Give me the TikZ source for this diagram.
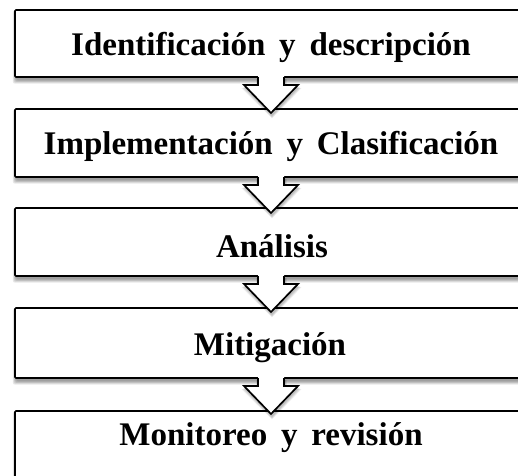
\documentclass[tikz,border=0pt]{standalone}
\usepackage{fontspec}
\setmainfont{Liberation Serif}
\usetikzlibrary{calc}
\begin{document}
\begin{tikzpicture}[x=1pt,y=-1pt,
  stagebox/.style={draw=black, line width=1.7pt, fill=white, rounded corners=1pt,
    anchor=north west, minimum width=520pt, inner sep=0pt, outer sep=0pt},
  stagelabel/.style={font=\bfseries\fontsize{33}{36}\selectfont, inner sep=0pt, anchor=base},
  arrowfill/.style={fill=white, draw=none},
  arrowline/.style={draw=black, line width=1.7pt, line join=miter}]
\useasboundingbox (0,0) rectangle (518,475);
\clip (0,0) rectangle (518,475);

% stage boxes
\coordinate (o1) at (15,10);
\coordinate (o2) at (15,109);
\coordinate (o3) at (15,208);
\coordinate (o4) at (15,308);
\coordinate (o5) at (15,411);

% soft shadows under the boxes
\foreach \top/\h in {10/67,109/68,208/68,308/70,411/90}{
  \foreach \k in {0,...,4}{
    \fill[black,opacity=0.09,rounded corners=2pt]
      (15+1-\k*0.8, \top+3-\k*0.6) rectangle (535+\k*0.8, \top+\h+3+\k*0.9);
  }
}

\node[stagebox, minimum height=67pt] (s1) at (o1) {};
\node[stagebox, minimum height=68pt] (s2) at (o2) {};
\node[stagebox, minimum height=68pt] (s3) at (o3) {};
\node[stagebox, minimum height=70pt] (s4) at (o4) {};
\node[stagebox, minimum height=90pt] (s5) at (o5) {};

% labels, placed on their baselines
\node[stagelabel] (t1) at (271,55) {Identificación\, y\, descripción};
\node[stagelabel] (t2) at (271,154) {Implementación\, y\, Clasificación};
\node[stagelabel] (t3) at (272,257) {Análisis};
\node[stagelabel] (t4) at (270,355) {Mitigación};
\node[stagelabel] (t5) at (271,445) {Monitoreo\, y\, revisión};

% block arrows between consecutive stages
\foreach \a/\b in {s1/s2,s2/s3,s3/s4,s4/s5}{
  \coordinate (c) at (t1 |- \a.south);
  % shadow
  \foreach \k in {0,...,3}{
    \fill[black,opacity=0.07]
      ($(c)+(-13-\k*0.6,2)$) -- ($(c)+(-13-\k*0.6,10+\k*0.4)$) -- ($(c)+(-27-\k*0.8,10+\k*0.4)$)
      -- ($(c)+(1,39+\k*0.8)$) -- ($(c)+(28+\k*0.8,10+\k*0.4)$) -- ($(c)+(14+\k*0.6,10+\k*0.4)$)
      -- ($(c)+(14+\k*0.6,2)$) -- cycle;
  }
  \fill[arrowfill]
    ($(c)+(-13,-2)$) -- ($(c)+(-13,8)$) -- ($(c)+(-27,8)$) -- ($(c)+(0,36)$)
    -- ($(c)+(27,8)$) -- ($(c)+(13,8)$) -- ($(c)+(13,-2)$) -- cycle;
  \draw[arrowline]
    ($(c)+(-13,0)$) -- ($(c)+(-13,8)$) -- ($(c)+(-27,8)$) -- ($(c)+(0,36)$)
    -- ($(c)+(27,8)$) -- ($(c)+(13,8)$) -- ($(c)+(13,0)$);
}
\end{tikzpicture}
\end{document}
